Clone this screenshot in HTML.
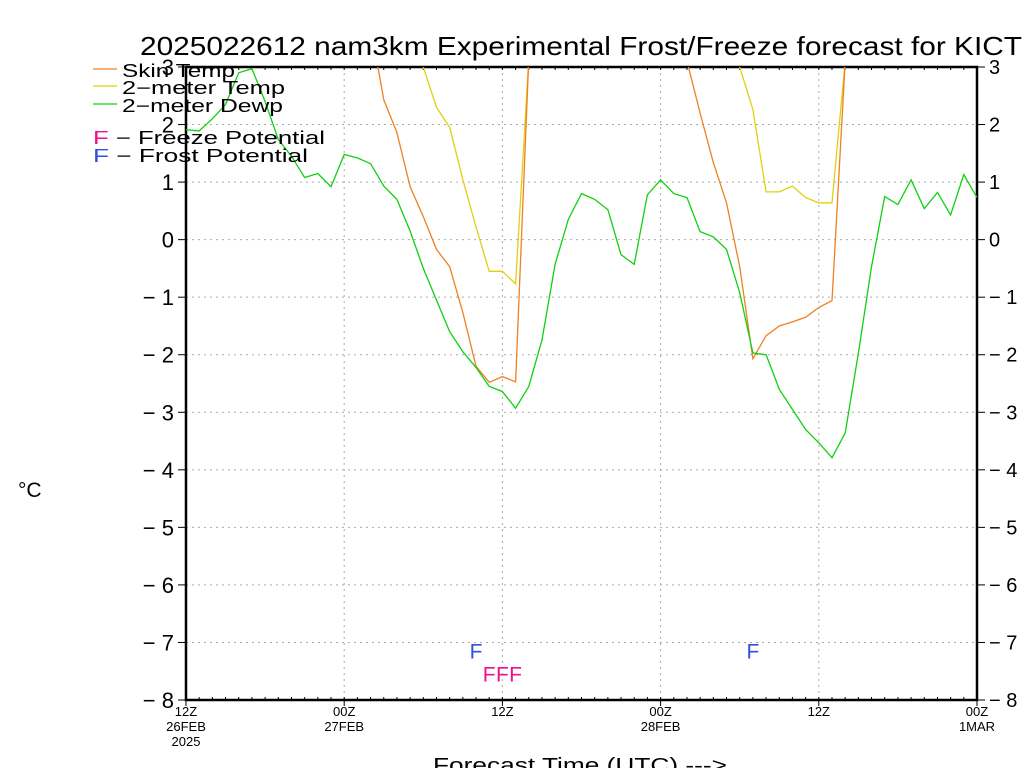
<!DOCTYPE html>
<html><head><meta charset="utf-8"><style>
body{margin:0;background:#fff;}
svg{display:block;font-family:"Liberation Sans",sans-serif;}
</style></head><body>
<svg id="chart" width="1024" height="768" viewBox="0 0 1024 768">
<rect width="1024" height="768" fill="#fff"/>
<text x="140" y="55" font-size="26" fill="#000" textLength="882" lengthAdjust="spacingAndGlyphs">2025022612 nam3km Experimental Frost/Freeze forecast for KICT</text>
<g id="grid"></g>
<g id="axes"></g>
<g id="series"></g>
<g id="flags"></g>
<g font-size="18">
<line x1="93" y1="69" x2="117" y2="69" stroke="#f08020" stroke-width="1.2"/>
<text x="122" y="77" fill="#000" textLength="113" lengthAdjust="spacingAndGlyphs">Skin Temp</text>
<line x1="93" y1="86" x2="117" y2="86" stroke="#e0d010" stroke-width="1.2"/>
<text x="122" y="94" fill="#000" textLength="163" lengthAdjust="spacingAndGlyphs">2−meter Temp</text>
<line x1="93" y1="104" x2="117" y2="104" stroke="#10d010" stroke-width="1.2"/>
<text x="122" y="112" fill="#000" textLength="161" lengthAdjust="spacingAndGlyphs">2−meter Dewp</text>
<text x="93" y="144" fill="#000" textLength="232" lengthAdjust="spacingAndGlyphs"><tspan fill="#f0108a">F</tspan>  − Freeze Potential</text>
<text x="93" y="162" fill="#000" textLength="215" lengthAdjust="spacingAndGlyphs"><tspan fill="#3050e0">F</tspan>  − Frost Potential</text>
</g>
<text x="18" y="497" font-size="21" fill="#000">°C</text>
<text x="433" y="772" font-size="20" fill="#000" textLength="294" lengthAdjust="spacingAndGlyphs">Forecast Time (UTC) ---&gt;</text>
</svg>
<script>
const yTicks=[3,2,1,0,-1,-2,-3,-4,-5,-6,-7,-8];
const xTickHours=[0,12,24,36,48,60];
const xTickTop=["12Z","00Z","12Z","00Z","12Z","00Z"];
const xTickDate=["26FEB","27FEB","","28FEB","","1MAR"];
const xTickYear=["2025","","","","",""];
const dewHours=[0,1,2,3,4,5,6,7,8,9,10,11,12,13,14,15,16,17,18,19,20,21,22,23,24,25,26,27,28,29,30,31,32,33,34,35,36,37,38,39,40,41,42,43,44,45,46,47,48,49,50,51,52,53,54,55,56,57,58,59,60];
const dewVals=[1.91,1.89,2.1,2.35,2.9,2.97,2.4,1.74,1.45,1.08,1.15,0.92,1.48,1.42,1.32,0.93,0.70,0.15,-0.5,-1.05,-1.6,-1.95,-2.22,-2.55,-2.64,-2.93,-2.55,-1.74,-0.43,0.35,0.8,0.7,0.52,-0.26,-0.43,0.78,1.04,0.8,0.73,0.14,0.05,-0.17,-0.92,-1.97,-2.0,-2.6,-2.95,-3.3,-3.53,-3.79,-3.36,-1.97,-0.47,0.75,0.61,1.04,0.54,0.82,0.43,1.13,0.73];
const skinHours=[13,14,15,16,17,18,19,20,21,22,23,24,25,26,27,37,38,39,40,41,42,43,44,45,46,47,48,49,50,51];
const skinVals=[5,3.7,2.43,1.86,0.92,0.4,-0.17,-0.47,-1.27,-2.2,-2.48,-2.38,-2.47,3.15,8,8,3.1,2.2,1.34,0.64,-0.47,-2.07,-1.67,-1.5,-1.43,-1.35,-1.18,-1.06,3.1,8];
const t2mHours=[17,18,19,20,21,22,23,24,25,26,27,40,41,42,43,44,45,46,47,48,49,50,51];
const t2mVals=[4,3.0,2.3,1.95,1.04,0.22,-0.55,-0.55,-0.77,3.15,8,5,3.7,3.0,2.26,0.83,0.83,0.93,0.73,0.64,0.64,3.1,8];
const frostHours=[22,43];
const freezeHours=[23,24,25];
const NS='http://www.w3.org/2000/svg';
const X0=186,X1=977,Y0=67,Y1=700,HMAX=60,VMAX=3,VMIN=-8;
function xs(h){return X0+(X1-X0)*h/HMAX;}
function ys(v){return Y0+(Y1-Y0)*(VMAX-v)/(VMAX-VMIN);}
function mk(tag,attrs,parent){const e=document.createElementNS(NS,tag);for(const k in attrs)e.setAttribute(k,attrs[k]);parent.appendChild(e);return e;}
const grid=document.getElementById('grid'),axes=document.getElementById('axes'),series=document.getElementById('series'),flags=document.getElementById('flags'),svg=document.getElementById('chart');
const defs=mk('defs',{},svg);const cp=mk('clipPath',{id:'plotclip'},defs);mk('rect',{x:X0,y:Y0,width:X1-X0,height:Y1-Y0},cp);
yTicks.forEach(v=>{const y=ys(v);
 if(v<3&&v>-8){const g=mk('line',{x1:X0,x2:X1,y1:y,y2:y,stroke:'#aaa','stroke-dasharray':'2,4'},grid);
 
 }
 const tl=mk('line',{x1:X0-8,x2:X0,y1:y,y2:y,stroke:'#000'},axes);
 
 
 const tr=mk('line',{x1:X1,x2:X1+8,y1:y,y2:y,stroke:'#000'},axes);
 
 
 const lab=(v<0?'− ':'')+Math.abs(v);
 const t1=mk('text',{x:X0-12,y:y+8,'text-anchor':'end','font-size':'22',fill:'#000'},axes);t1.textContent=lab;
 
 
 const t2=mk('text',{x:X1+(v<0?12:12),y:y+7,'font-size':'20',fill:'#000'},axes);t2.textContent=lab;
 
 
});
xTickHours.forEach((h,i)=>{const x=xs(h);
 if(h>0&&h<HMAX){const g=mk('line',{x1:x,x2:x,y1:Y0,y2:Y1,stroke:'#aaa','stroke-dasharray':'2,4'},grid);
 
 }
 const tk=mk('line',{x1:x,x2:x,y1:Y1,y2:Y1+6,stroke:'#000'},axes);
 
 
 [[xTickTop[i],716],[xTickDate[i],731],[xTickYear[i],746]].forEach(([s,y])=>{if(!s)return;
  const t=mk('text',{x:x,y:y,'text-anchor':'middle','font-size':'13',fill:'#000'},axes);t.textContent=s;
  
  });
});
for(let h=1;h<HMAX;h++){const x=xs(h);
 const a=mk('line',{x1:x,x2:x,y1:Y1-3,y2:Y1,stroke:'#000'},axes);
 
 
 const b=mk('line',{x1:x,x2:x,y1:Y0,y2:Y0+3,stroke:'#000'},axes);
 
 }
const frame=mk('rect',{x:X0,y:Y0,width:X1-X0,height:Y1-Y0,fill:'none',stroke:'#000','stroke-width':'2.5'},axes);


function line(hs,vs,color,name){const pts=hs.map((h,i)=>xs(h).toFixed(1)+','+ys(vs[i]).toFixed(1)).join(' ');
 const p=mk('polyline',{points:pts,fill:'none',stroke:color,'stroke-width':'1.3','clip-path':'url(#plotclip)'},series);
 
 }
line(t2mHours,t2mVals,'#e0d010','t2m-line');
line(skinHours,skinVals,'#f08020','skin-temp-line');
line(dewHours,dewVals,'#10d010','dewpoint-line');
frostHours.forEach(h=>{const t=mk('text',{x:xs(h),y:ys(-7)+16,'text-anchor':'middle','font-size':'21',fill:'#3050e0'},flags);t.textContent='F';
 
 });
freezeHours.forEach(h=>{const t=mk('text',{x:xs(h),y:ys(-7)+39,'text-anchor':'middle','font-size':'21',fill:'#f0108a'},flags);t.textContent='F';
 
 });
</script>
</body></html>
